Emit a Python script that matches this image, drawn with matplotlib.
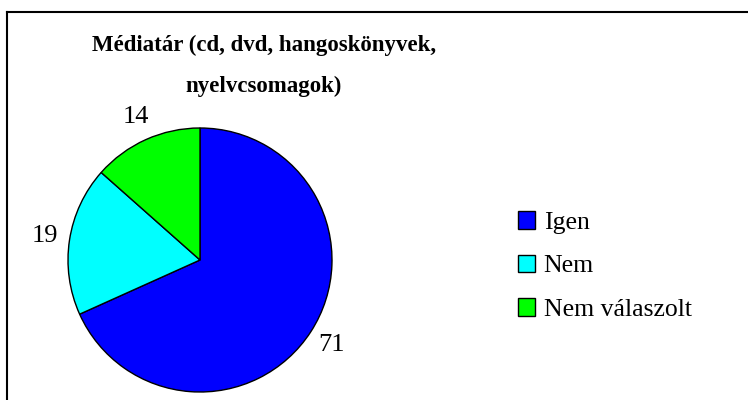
import matplotlib
matplotlib.use("Agg")
import matplotlib.pyplot as plt
from matplotlib.lines import Line2D

categories = ["Igen", "Nem", "Nem válaszolt"]
values = [71, 19, 14]
colors = ["#0000FF", "#00FFFF", "#00FF00"]
title = "Médiatár (cd, dvd, hangoskönyvek,\nnyelvcsomagok)"

plt.rcParams['font.family'] = ['Liberation Serif', 'DejaVu Serif']

W, H = 748, 400
fig = plt.figure(figsize=(W / 100, H / 100), dpi=100)

# pie axes: centre (200,260) px, radius 132 px
cx, cy, r = 200, 260, 132
ax = fig.add_axes([(cx - r) / W, (H - cy - r) / H, 2 * r / W, 2 * r / H])
wedges, texts = ax.pie(values, labels=[str(v) for v in values], colors=colors,
                       startangle=90, counterclock=False, labeldistance=1.19,
                       wedgeprops=dict(edgecolor="black", linewidth=1.0),
                       textprops=dict(fontsize=19))
for t in texts:
    t.set_ha("center")
ax.set_xlim(-1, 1)
ax.set_ylim(-1, 1)
ax.set_aspect("equal")

fig.text(264 / W, 1 - 66 / H, title, ha="center", va="center",
         fontsize=16.5, fontweight="bold", linespacing=2.2)

fig.legend(wedges, categories, loc="center left",
           bbox_to_anchor=(518 / W, 1 - 266 / H), frameon=False,
           fontsize=18.5, handlelength=0.68, handleheight=0.68,
           handletextpad=0.32, labelspacing=0.8, borderpad=0, borderaxespad=0)

# outer frame (only top and left visible)
fig.add_artist(Line2D([7 / W, 1], [1 - 12 / H, 1 - 12 / H], color="black", linewidth=1.5,
                      transform=fig.transFigure))
fig.add_artist(Line2D([7 / W, 7 / W], [0, 1 - 12 / H], color="black", linewidth=1.5,
                      transform=fig.transFigure))

fig.savefig("out.png", dpi=100)
